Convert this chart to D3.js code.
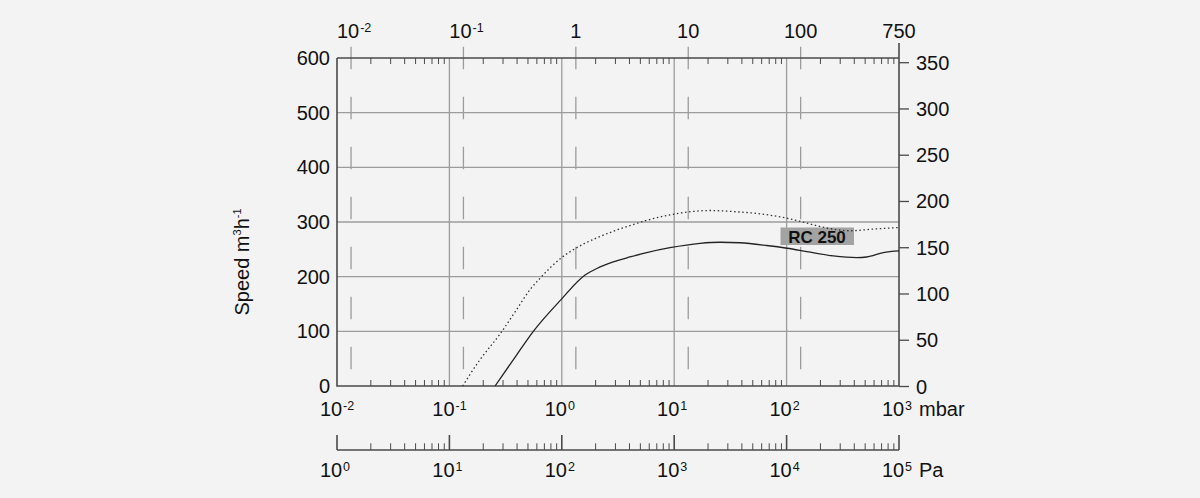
<!DOCTYPE html>
<html><head><meta charset="utf-8">
<script src="https://cdn.jsdelivr.net/npm/d3@7/dist/d3.min.js"></script>
<style>
html,body{margin:0;padding:0;background:#f3f3f3;}
svg{display:block;font-family:"Liberation Sans",Arial,sans-serif;}
</style></head>
<body><svg id="c" width="1200" height="498"></svg>
<script>
// ---- data ----
const leftTicks = [0,100,200,300,400,500,600];
const rightTicks = [0,50,100,150,200,250,300,350];
const mbarDecades = [-2,-1,0,1,2,3];
const paDecades = [0,1,2,3,4,5];
const torrTicks = [0.01,0.1,1,10,100,750];
const torrLabels = ["10|-2","10|-1","1","10","100","750"];
const solidP = [0.255,0.4,0.558,0.984,1.61,2.05,2.87,4.04,5.69,9.18,17,25.6,38.5,66.5,101,151,260,421,516,725,1000];
const solidS = [0,58,100,158,203,215,227,236,244,253,261,263,262,257,252,246,238,235,236,244,247];
const dotP = [0.131,0.187,0.282,0.397,0.521,0.64,0.984,1.33,2.05,2.87,4.04,5.69,9.18,12.9,20.8,33.6,58,100,151,228,366,590,1000];
const dotS = [0,48,95,140,176,197,234,252,271,283,293.5,303,313,318,321,319,315,307,298,289,284,287,290];
const seriesLabel = "RC 250";

const svg = d3.select("#c");
const L=337,R=899,T=58,B=386;
const x = d3.scaleLog().domain([0.01,1000]).range([L,R]);
const y = d3.scaleLinear().domain([0,600]).range([B,T]);
const yR = d3.scaleLinear().domain([0,350]).range([386.5,62.7]);
const TORR=1.33322;
const grid="#9c9c9c", axisC="#4a4a4a", ink="#111";
const FS=20;

// horizontal grid
svg.append("g").selectAll("line").data(leftTicks.filter(d=>d>0&&d<600)).join("line")
  .attr("x1",L).attr("x2",R).attr("y1",d=>y(d)).attr("y2",d=>y(d))
  .attr("stroke",grid).attr("stroke-width",1.3);
// vertical solid grid at mbar decades
svg.append("g").selectAll("line").data([-1,0,1,2]).join("line")
  .attr("x1",d=>x(10**d)).attr("x2",d=>x(10**d)).attr("y1",T).attr("y2",B)
  .attr("stroke",grid).attr("stroke-width",1.3);
// dashed vertical at torr decades
svg.append("g").selectAll("line").data(torrTicks.slice(0,5)).join("line")
  .attr("x1",d=>x(d*TORR)).attr("x2",d=>x(d*TORR)).attr("y1",46.7).attr("y2",370)
  .attr("stroke",grid).attr("stroke-width",1.3).attr("stroke-dasharray","22.6,27.4");

// minor ticks (mbar 2..9) top and bottom
const minors=[];
for(let e=-2;e<3;e++) for(let k=2;k<10;k++) minors.push(k*10**e);
svg.append("g").selectAll("line").data(minors).join("line")
  .attr("x1",d=>x(d)).attr("x2",d=>x(d)).attr("y1",T).attr("y2",T+6)
  .attr("stroke",axisC).attr("stroke-width",1);
svg.append("g").selectAll("line").data(minors).join("line")
  .attr("x1",d=>x(d)).attr("x2",d=>x(d)).attr("y1",B).attr("y2",B-6)
  .attr("stroke",axisC).attr("stroke-width",1);

// frame
svg.append("path").attr("d",`M${L},${T}V${B}H${R}`).attr("fill","none").attr("stroke",axisC).attr("stroke-width",1.6);
svg.append("line").attr("x1",L).attr("x2",R).attr("y1",T).attr("y2",T).attr("stroke",axisC).attr("stroke-width",1.6);
svg.append("line").attr("x1",R).attr("x2",R).attr("y1",43).attr("y2",B).attr("stroke",axisC).attr("stroke-width",1.6);

// left labels
svg.append("g").selectAll("text").data(leftTicks).join("text")
  .attr("x",330).attr("y",d=>y(d)+7).attr("text-anchor","end")
  .attr("font-size",FS).attr("fill",ink).text(d=>d);
// right ticks + labels
svg.append("g").selectAll("line").data(rightTicks).join("line")
  .attr("x1",R).attr("x2",909).attr("y1",d=>yR(d)).attr("y2",d=>yR(d))
  .attr("stroke",axisC).attr("stroke-width",1.3);
svg.append("g").selectAll("text").data(rightTicks).join("text")
  .attr("x",916).attr("y",d=>yR(d)+7).attr("text-anchor","start")
  .attr("font-size",FS).attr("fill",ink).text(d=>d);

// y title
const yt = svg.append("text").attr("transform","translate(249,262) rotate(-90)")
  .attr("text-anchor","middle").attr("font-size",FS).attr("fill",ink);
yt.append("tspan").text("Speed m");
yt.append("tspan").attr("font-size",11).attr("dy",-8).text("3");
yt.append("tspan").attr("dy",8).text("h");
yt.append("tspan").attr("font-size",11).attr("dy",-8).text("-1");

// power label: "base" centred at xc, exponent after it
function pow(g,xc,yb,base,exp){
  g.append("text").attr("x",xc).attr("y",yb).attr("text-anchor","middle")
    .attr("font-size",FS).attr("fill",ink).text(base);
  if(exp!==null){
    const w = base.length*0.556*FS;
    g.append("text").attr("x",xc+w/2+1).attr("y",yb-6).attr("text-anchor","start")
      .attr("font-size",12.5).attr("fill",ink).text(exp);
  }
}
// top torr labels
const gTop=svg.append("g");
torrTicks.forEach((d,i)=>{
  const parts=torrLabels[i].split("|");
  const xc = x(d*TORR) + (parts.length>1 ? -3 : 0);
  pow(gTop,xc,38.3,parts[0],parts.length>1?parts[1]:null);
});
// bottom mbar labels
const gB=svg.append("g");
mbarDecades.forEach(e=>pow(gB,x(10**e)-6,415.7,"10",String(e)));
gB.append("text").attr("x",919).attr("y",415.7).attr("font-size",FS).attr("fill",ink).text("mbar");

// Pa axis
const yPa=450;
const xPa = d3.scaleLog().domain([1,1e5]).range([L,R]);
svg.append("line").attr("x1",L).attr("x2",R).attr("y1",yPa).attr("y2",yPa).attr("stroke",axisC).attr("stroke-width",1.6);
svg.append("g").selectAll("line").data(paDecades).join("line")
  .attr("x1",d=>xPa(10**d)).attr("x2",d=>xPa(10**d)).attr("y1",yPa).attr("y2",yPa-15)
  .attr("stroke",axisC).attr("stroke-width",1.6);
const paMin=[];
for(let e=0;e<5;e++) for(let k=2;k<10;k++) paMin.push(k*10**e);
svg.append("g").selectAll("line").data(paMin).join("line")
  .attr("x1",d=>xPa(d)).attr("x2",d=>xPa(d)).attr("y1",yPa).attr("y2",yPa-6.7)
  .attr("stroke",axisC).attr("stroke-width",1);
const gP=svg.append("g");
paDecades.forEach(e=>pow(gP,xPa(10**e)-6,476.7,"10",String(e)));
gP.append("text").attr("x",919).attr("y",476.7).attr("font-size",FS).attr("fill",ink).text("Pa");

// label box
svg.append("rect").attr("x",780.5).attr("y",227.5).attr("width",73.5).attr("height",17.5).attr("fill","#a3a3a3");
svg.append("text").attr("x",817).attr("y",243).attr("text-anchor","middle").attr("font-size",17)
  .attr("font-weight","bold").attr("fill","#111").text(seriesLabel);

// curves
const line = d3.line().curve(d3.curveMonotoneX).x(d=>x(d[0])).y(d=>y(d[1]));
svg.append("path").datum(dotP.map((p,i)=>[p,dotS[i]])).attr("d",line)
  .attr("fill","none").attr("stroke","#333").attr("stroke-width",1.3).attr("stroke-dasharray","1.5,2.6");
svg.append("path").datum(solidP.map((p,i)=>[p,solidS[i]])).attr("d",line)
  .attr("fill","none").attr("stroke","#222").attr("stroke-width",1.3);
</script></body></html>
